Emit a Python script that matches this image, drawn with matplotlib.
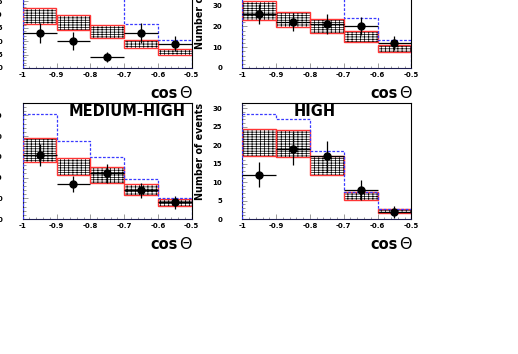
import matplotlib
matplotlib.use('Agg')
import matplotlib.pyplot as plt
from matplotlib.ticker import MultipleLocator
import numpy as np

plt.rcParams['font.family'] = 'DejaVu Sans'
plt.rcParams['hatch.linewidth'] = 0.5

# bins in cos(theta)
edges = [-1.0, -0.9, -0.8, -0.7, -0.6, -0.5]
centers = [-0.95, -0.85, -0.75, -0.65, -0.55]
xtick_labels = ['-1', '-0.9', '-0.8', '-0.7', '-0.6', '-0.5']

# top left panel
tl_band_lo = [16.3, 14.1, 11.3, 7.4, 4.8]
tl_band_hi = [22.4, 20.0, 16.2, 10.6, 7.1]
tl_data = [13.1, 10.0, 4.1, 13.1, 9.1]
tl_err = [3.7, 3.4, 2.0, 3.7, 2.9]
tl_mc = [39.4, 34.0, 29.0, 16.6, 10.6]

# top right panel
tr_band_lo = [23.2, 19.5, 16.8, 12.5, 7.5]
tr_band_hi = [32.0, 27.0, 23.7, 17.9, 10.9]
tr_data = [26.1, 22.1, 21.1, 20.0, 12.0]
tr_err = [4.8, 4.4, 4.7, 4.3, 3.4]
tr_mc = [50.5, 44.0, 36.0, 24.0, 13.6]

# MEDIUM-HIGH
mh_band_lo = [27.6, 21.0, 17.4, 11.7, 6.5]
mh_band_hi = [39.0, 29.4, 25.0, 16.9, 9.6]
mh_data = [30.9, 16.9, 22.0, 13.8, 8.0]
mh_err = [5.3, 4.0, 4.5, 3.7, 3.0]
mh_mc = [50.7, 37.7, 30.1, 19.5, 10.1]

# HIGH
hi_band_lo = [17.2, 16.8, 12.0, 5.2, 1.7]
hi_band_hi = [24.5, 24.0, 17.2, 7.4, 2.6]
hi_data = [12.0, 19.1, 17.0, 7.9, 1.9]
hi_err = [3.4, 4.6, 4.2, 2.7, 1.6]
hi_mc = [28.5, 27.0, 18.4, 7.4, 2.7]


def panel(ax, band_lo, band_hi, data, err, mc, major, minor,
          title=None, title_xy=None, ylabel=True):
    lo = np.array(band_lo)
    hi = np.array(band_hi)
    # hatched band + red outline
    ax.bar(centers, hi - lo, width=0.1, bottom=lo, color='white',
           edgecolor='black', linewidth=0, hatch='-------||||', zorder=2)
    ax.bar(centers, hi - lo, width=0.1, bottom=lo, fill=False,
           edgecolor='#ff3434', linewidth=1.0, zorder=3)
    ax.stairs(mc, edges, color='#3a3aff', linestyle=(0, (2.2, 1.3)),
              linewidth=0.9, zorder=4)
    ax.errorbar(centers, data, yerr=err, xerr=0.05, fmt='o', color='black',
                ms=5, elinewidth=0.9, capsize=0, zorder=5)

    ymax = 1.1 * mc[0]
    ax.set_xlim(-1.0, -0.5)
    ax.set_ylim(0, ymax)
    ax.set_xticks(edges, xtick_labels, fontsize=5, fontweight='bold')
    yt = np.arange(0, ymax, major)
    ax.set_yticks(yt, [str(int(v)) for v in yt], fontsize=5, fontweight='bold')
    ax.xaxis.set_minor_locator(MultipleLocator(0.02))
    ax.yaxis.set_minor_locator(MultipleLocator(minor))
    ax.tick_params(which='both', direction='in', color='#8a8a8a', width=0.6)
    ax.tick_params(which='major', length=3.5)
    ax.tick_params(which='minor', length=1.8)
    ax.tick_params(axis='x', pad=3)
    ax.tick_params(axis='y', pad=14.5)
    for s in ax.spines.values():
        s.set_linewidth(0.8)
    ax.spines['left'].set_color('#1c1c50')
    ax.spines['bottom'].set_color('#1c1c50')

    ax.text(0.92, -0.262, 'cos', transform=ax.transAxes, ha='right',
            va='baseline', fontsize=10.5, fontweight='bold')
    ax.text(1.0, -0.262, 'Θ', transform=ax.transAxes, ha='right',
            va='baseline', fontsize=11.5)
    if ylabel:
        ax.text(-0.25, 1.0, 'Number of events', transform=ax.transAxes,
                rotation=90, ha='center', va='top', fontsize=6.9,
                fontweight='bold')
    if title:
        ax.text(title_xy[0], title_xy[1], title, transform=ax.transAxes,
                ha='center', va='center', fontsize=10.5, fontweight='bold')


fig = plt.figure(figsize=(5.18, 3.54), dpi=100)
W, H = 518.0, 354.0
aw, ah = 169.0 / W, 115.7 / H

ax_tl = fig.add_axes([22.7 / W, 1 - 68 / H, aw, ah])
ax_tr = fig.add_axes([242.3 / W, 1 - 68 / H, aw, ah])
ax_bl = fig.add_axes([22.7 / W, 1 - 219 / H, aw, ah])
ax_br = fig.add_axes([242.3 / W, 1 - 219 / H, aw, ah])

panel(ax_tl, tl_band_lo, tl_band_hi, tl_data, tl_err, tl_mc, 5, 1, ylabel=False)
panel(ax_tr, tr_band_lo, tr_band_hi, tr_data, tr_err, tr_mc, 10, 2)
panel(ax_bl, mh_band_lo, mh_band_hi, mh_data, mh_err, mh_mc, 10, 2,
      title='MEDIUM-HIGH', title_xy=(0.617, 0.933), ylabel=False)
panel(ax_br, hi_band_lo, hi_band_hi, hi_data, hi_err, hi_mc, 5, 1,
      title='HIGH', title_xy=(0.43, 0.925))

fig.savefig('out.png', dpi=100)
